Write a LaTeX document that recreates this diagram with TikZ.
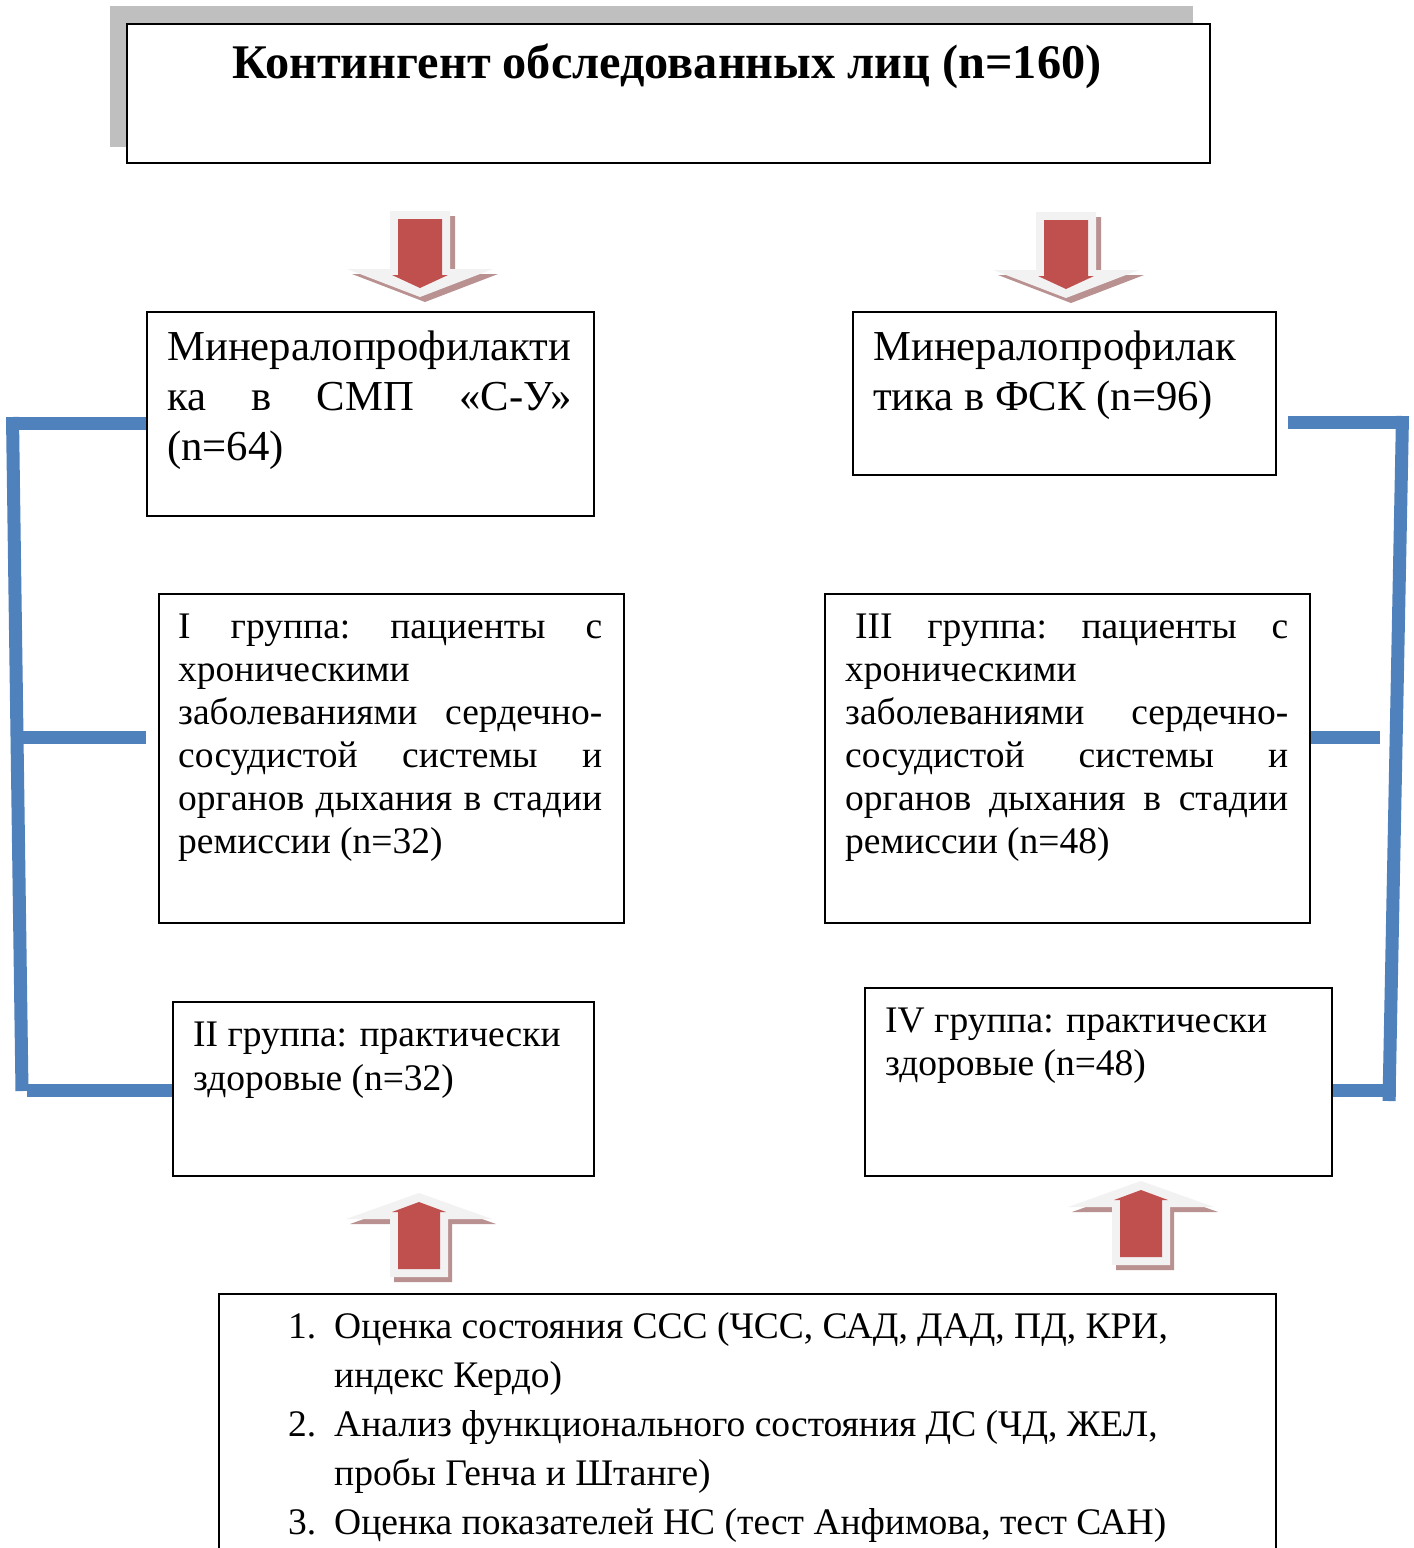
\documentclass[tikz,border=0pt]{standalone}
\usepackage{fontspec}
\setmainfont{Liberation Serif}
\definecolor{arrred}{RGB}{192,80,77}
\definecolor{arrlight}{RGB}{242,242,242}
\definecolor{arrshadow}{RGB}{186,145,145}
\definecolor{brblue}{RGB}{79,129,189}
\definecolor{ttlshadow}{RGB}{191,191,191}
\newcommand{\downarr}[2]{%
  \begin{scope}[shift={(#1,#2)}]
    \fill[arrshadow,shift={(5,5)}] (-30,0)--(30,0)--(30,58)--(73,58)--(0,86)--(-73,58)--(-30,58)--cycle;
    \fill[arrlight] (-30,0)--(30,0)--(30,58)--(73,58)--(0,86)--(-73,58)--(-30,58)--cycle;
    \fill[arrred] (-22,8)--(22,8)--(22,64)--(28,64)--(0,77)--(-28,64)--(-22,64)--cycle;
  \end{scope}}
\newcommand{\uparr}[2]{%
  \begin{scope}[shift={(#1,#2)}]
    \fill[arrshadow,shift={(4,5)}] (0,0)--(73,26)--(29,26)--(29,84)--(-29,84)--(-29,26)--(-73,26)--cycle;
    \fill[arrlight] (0,0)--(73,26)--(29,26)--(29,84)--(-29,84)--(-29,26)--(-73,26)--cycle;
    \fill[arrred] (0,9)--(27,19)--(21,19)--(21,76)--(-21,76)--(-21,19)--(-27,19)--cycle;
  \end{scope}}
\begin{document}
\begin{tikzpicture}[x=1pt,y=-1pt,
  box/.style={draw=black,line width=2pt,fill=white,anchor=north west,inner sep=0pt},
  txtA/.style={anchor=base west,inner sep=0pt,font=\fontsize{42.7}{50}\selectfont},
  txtC/.style={anchor=base west,inner sep=0pt,font=\fontsize{37.5}{43}\selectfont},
  txtG/.style={anchor=base west,inner sep=0pt,font=\fontsize{37.5}{49}\selectfont},
  bracket/.style={draw=brblue,line width=13pt,line cap=butt}]
\useasboundingbox (0,0) rectangle (1414,1548);
\fill[white] (0,0) rectangle (1414,1548);
% title
\fill[ttlshadow] (110,6) rectangle (1193,147);
\node[box,line width=2.4pt,minimum width=1083pt,minimum height=139pt] (T) at (126,23) {};
\node[anchor=base,inner sep=0pt,font=\fontsize{48.3}{56}\selectfont\bfseries] (Tt) at (667,78) {Контингент обследованных лиц (n=160)};
% boxes
\node[box,minimum width=447pt,minimum height=204pt] (A) at (146,311) {};
\node[box,minimum width=423pt,minimum height=163pt] (B) at (852,311) {};
\node[box,minimum width=465pt,minimum height=329pt] (C) at (158,593) {};
\node[box,minimum width=485pt,minimum height=329pt] (D) at (824,593) {};
\node[box,minimum width=421pt,minimum height=174pt] (E) at (172,1001) {};
\node[box,minimum width=467pt,minimum height=188pt] (F) at (864,987) {};
\node[box,minimum width=1057pt,minimum height=320pt] (G) at (218,1293) {};
% texts
\node[txtA] (At) at (167,360) {\vtop{\hbox{Минералопрофилакти}\hbox to 405pt{ка\hfill в\hfill СМП\hfill «С-У»}\hbox{(n=64)}}};
\node[txtA] (Bt) at (873,360) {\vtop{\hbox{Минералопрофилак}\hbox{тика в ФСК (n=96)}}};
\node[txtC] (Ct) at (178,638) {\vtop{%
  \hbox to 424pt{I\hfill группа:\hfill пациенты\hfill с}%
  \hbox{хроническими}%
  \hbox to 424pt{заболеваниями\hfill сердечно-}%
  \hbox to 424pt{сосудистой\hfill системы\hfill и}%
  \hbox to 424pt{органов\hfill дыхания\hfill в\hfill стадии}%
  \hbox{ремиссии (n=32)}}};
\node[txtC] (Dt) at (845,638) {\vtop{%
  \hbox to 443pt{\hspace{10pt}III\hfill группа:\hfill пациенты\hfill с}%
  \hbox{хроническими}%
  \hbox to 443pt{заболеваниями\hfill сердечно-}%
  \hbox to 443pt{сосудистой\hfill системы\hfill и}%
  \hbox to 443pt{органов\hfill дыхания\hfill в\hfill стадии}%
  \hbox{ремиссии (n=48)}}};
\node[txtC,font=\fontsize{37.5}{44}\selectfont] (Et) at (193,1046) {\vtop{\hbox{II группа: практически}\hbox{здоровые (n=32)}}};
\node[txtC] (Ft) at (885,1032) {\vtop{\hbox{IV группа: практически}\hbox{здоровые (n=48)}}};
\node[txtG] (Gt) at (288,1338) {\vtop{%
  \hbox{\makebox[46pt][l]{1.}Оценка состояния ССС (ЧСС, САД, ДАД, ПД, КРИ,}%
  \hbox{\hspace{46pt}индекс Кердо)}%
  \hbox{\makebox[46pt][l]{2.}Анализ функционального состояния ДС (ЧД, ЖЕЛ,}%
  \hbox{\hspace{46pt}пробы Генча и Штанге)}%
  \hbox{\makebox[46pt][l]{3.}Оценка показателей НС (тест Анфимова, тест САН)}}};
% arrows
\downarr{420}{211}
\downarr{1066}{212}
\uparr{419}{1193}
\uparr{1141}{1181}
% brackets left
\coordinate (L1) at (12,423.5);
\coordinate (L2) at (12.5,417);
\coordinate (L3) at (22,1091);
\coordinate (L4) at (20,737);
\coordinate (L5) at (146,737);
\coordinate (L6) at (27,1090.5);
\draw[bracket] (L1) -- (A.west |- L1);
\draw[bracket] (L2) -- (L3);
\draw[bracket] (L4) -- (L5);
\draw[bracket] (L6) -- (E.west |- L6);
% brackets right
\coordinate (R1) at (1288,422.5);
\coordinate (R2) at (1403,422.5);
\coordinate (R3) at (1402.5,416);
\coordinate (R4) at (1389,1101);
\coordinate (R5) at (1380,737);
\coordinate (R6) at (1396,1090.5);
\draw[bracket] (R1) -- (R2);
\draw[bracket] (R3) -- (R4);
\draw[bracket] (D.east |- R5) -- (R5);
\draw[bracket] (F.east |- R6) -- (R6);
\end{tikzpicture}
\end{document}
